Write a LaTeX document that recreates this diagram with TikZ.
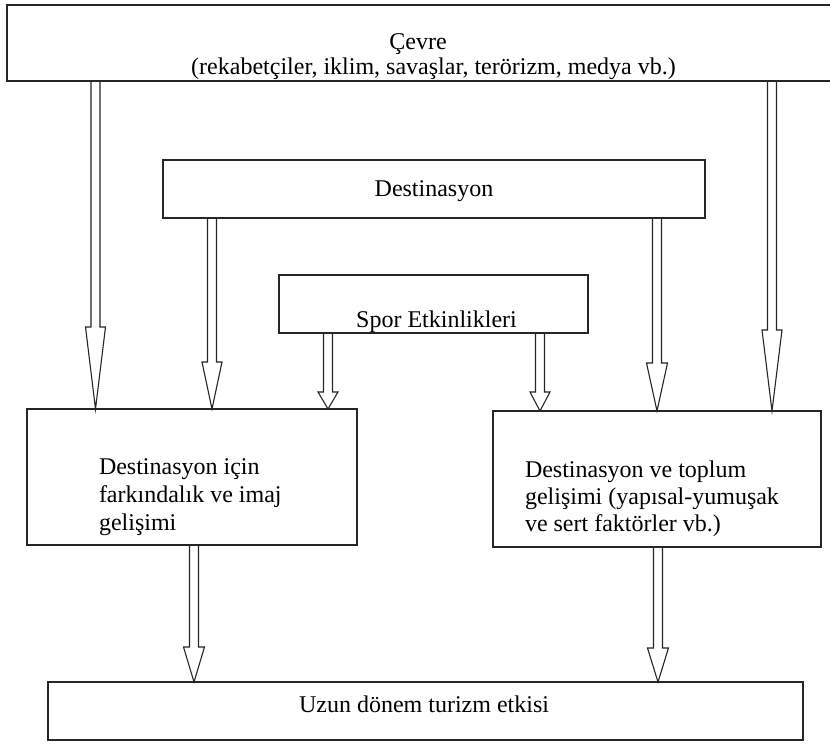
\documentclass[tikz,border=0pt]{standalone}
\usepackage{fontspec}
\setmainfont{Liberation Serif}
\usetikzlibrary{calc,fit}
\newcommand\dblarrow[6]{% #1 name, #2 x, #3 source, #4 target, #5 head length, #6 head half width
  \coordinate (#1s) at (#2,0 |- #3.south);
  \coordinate (#1e) at (#2,0 |- #4.north);
  \draw[dbl] ($(#1s)+(-4.5,0)$) -- ($(#1e)+(-4.5,-#5)$) -- ($(#1e)+(-#6,-#5)$) -- (#1e)
     -- ($(#1e)+(#6,-#5)$) -- ($(#1e)+(4.5,-#5)$) -- ($(#1s)+(4.5,0)$);
}
\begin{document}
\begin{tikzpicture}[x=1pt,y=-1pt,
  box/.style={draw=black!85, line width=1.5pt, inner sep=0pt, outer sep=0pt},
  lbl/.style={inner sep=0pt, outer sep=0pt, font=\fontsize{24}{28}\selectfont},
  dbl/.style={draw=black!85, line width=1.1pt, line join=miter}]
\useasboundingbox (0,0) rectangle (830,744);
\clip (0,0) rectangle (830,744);
\fill[white] (0,0) rectangle (830,744);

% boxes
\node[box, fit={(7,5) (836,81)}] (cevre) {};
\node[box, fit={(163,160) (705,218)}] (dest) {};
\node[box, fit={(279,275) (588,333)}] (spor) {};
\node[box, fit={(27,409) (357,545)}] (left) {};
\node[box, fit={(493,411) (821,547)}] (right) {};
\node[box, fit={(48,682) (803,740)}] (bottom) {};

% texts
\node[lbl, anchor=base] (t1) at (418,49) {Çevre};
\node[lbl, anchor=base] (t2) at (433.5,74) {(rekabetçiler, iklim, savaşlar, terörizm, medya vb.)};
\node[lbl, anchor=base] (t3) at (434,196) {Destinasyon};
\node[lbl, anchor=base] (t4) at (436.5,327) {Spor Etkinlikleri};
\node[lbl, anchor=base west] (t5) at (99,474) {Destinasyon için};
\node[lbl, anchor=base west] (t6) at (99,502) {farkındalık ve imaj};
\node[lbl, anchor=base west] (t7) at (99,530) {gelişimi};
\node[lbl, anchor=base west] (t8) at (525,477) {Destinasyon ve toplum};
\node[lbl, anchor=base west] (t9) at (525,504) {gelişimi (yapısal-yumuşak};
\node[lbl, anchor=base west] (t10) at (525,531) {ve sert faktörler vb.)};
\node[lbl, anchor=base] (t11) at (424,712) {Uzun dönem turizm etkisi};

% arrows
\dblarrow{a1}{95.5}{cevre}{left}{82}{10}
\dblarrow{a2}{772}{cevre}{right}{81}{10}
\dblarrow{a3}{212}{dest}{left}{47}{10}
\dblarrow{a4}{657}{dest}{right}{48}{10.5}
\dblarrow{a5}{328}{spor}{left}{17}{10}
\dblarrow{a6}{540}{spor}{right}{19}{10}
\dblarrow{a7}{194}{left}{bottom}{35}{10.5}
\dblarrow{a8}{658}{right}{bottom}{34}{10.5}
\end{tikzpicture}
\end{document}
